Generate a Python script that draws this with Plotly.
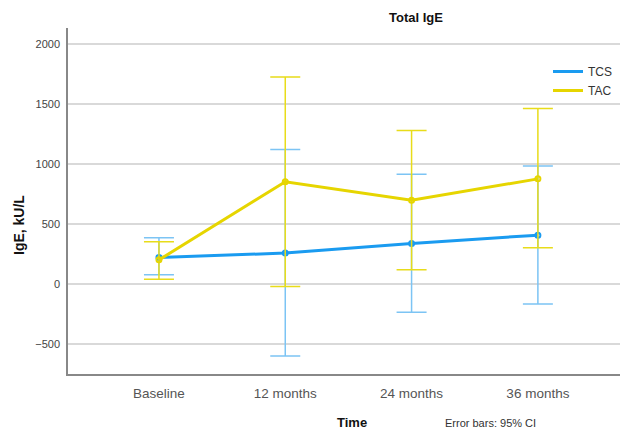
import plotly.graph_objects as go

categories = ["Baseline", "12 months", "24 months", "36 months"]
tcs_mean = [225, 262, 342, 411]
tcs_upper = [389, 1125, 919, 988]
tcs_lower = [81, -597, -231, -162]
tac_mean = [205, 856, 702, 880]
tac_upper = [356, 1728, 1283, 1467]
tac_lower = [44, -17, 122, 305]

BLUE = "#1a9bf0"
BLUE_EB = "#7cc4f4"
YEL = "#e6d500"
YEL_EB = "#e8dc1a"

W, H = 620, 431
L, R, T, B = 68, 0, 28, 57
pw = W - L - R
ph = H - T - B

def px_x(p):
    return (p - L) / pw

def px_y(p):
    return (H - B - p) / ph

xi = list(range(len(categories)))

fig = go.Figure()
for name, mean, up, lo, col, ebc in [
    ("TCS", tcs_mean, tcs_upper, tcs_lower, BLUE, BLUE_EB),
    ("TAC", tac_mean, tac_upper, tac_lower, YEL, YEL_EB),
]:
    fig.add_trace(go.Scatter(
        x=xi, y=mean, name=name, mode="lines+markers", showlegend=False,
        line=dict(color=col, width=3),
        marker=dict(size=5, color=col, symbol="circle-open", line=dict(width=2, color=col)),
        error_y=dict(type="data", symmetric=False,
                     array=[u - m for u, m in zip(up, mean)],
                     arrayminus=[m - l for m, l in zip(mean, lo)],
                     color=ebc, thickness=1.5, width=15),
    ))
    fig.add_trace(go.Scatter(
        x=[None], y=[None], name=name, mode="lines",
        line=dict(color=col, width=3), showlegend=True,
    ))

fig.update_layout(
    width=W, height=H,
    margin=dict(l=L, r=R, t=T, b=B, pad=0),
    paper_bgcolor="white", plot_bgcolor="white",
    font=dict(family="Liberation Sans, Arial, sans-serif", color="#333"),
    showlegend=True,
    legend=dict(x=px_x(548), y=px_y(57), xanchor="left", yanchor="top",
                bgcolor="rgba(0,0,0,0)", font=dict(size=12, color="#333"),
                itemwidth=30, tracegroupgap=0),
    xaxis=dict(range=[-0.72, 3.65], tickmode="array", tickvals=xi, ticktext=categories,
               showgrid=False, zeroline=False, showline=True, linecolor="#888", linewidth=1.5,
               ticks="", tickfont=dict(size=13.5, color="#555"), ticklabelstandoff=6),
    yaxis=dict(range=[-746, 2137], tickvals=[-500, 0, 500, 1000, 1500, 2000],
               showgrid=True, gridcolor="#d9d9d9", gridwidth=2, zeroline=False,
               showline=True, linecolor="#888", linewidth=1.5, ticks="",
               tickfont=dict(size=11, color="#444"), ticklabelstandoff=4),
    annotations=[
        dict(text="<b>Total IgE</b>", x=px_x(416), y=px_y(17), xref="paper", yref="paper",
             showarrow=False, font=dict(size=13, color="#111"), xanchor="center", yanchor="middle"),
        dict(text="<b>IgE, kU/L</b>", x=px_x(19), y=px_y(225), xref="paper", yref="paper",
             showarrow=False, textangle=-90, font=dict(size=14, color="#111"),
             xanchor="center", yanchor="middle"),
        dict(text="<b>Time</b>", x=px_x(352), y=px_y(422), xref="paper", yref="paper",
             showarrow=False, font=dict(size=13, color="#111"), xanchor="center", yanchor="middle"),
        dict(text="Error bars: 95% CI", x=px_x(490), y=px_y(423), xref="paper", yref="paper",
             showarrow=False, font=dict(size=11, color="#333"), xanchor="center", yanchor="middle"),
    ],
)

fig.write_html("out.html")
